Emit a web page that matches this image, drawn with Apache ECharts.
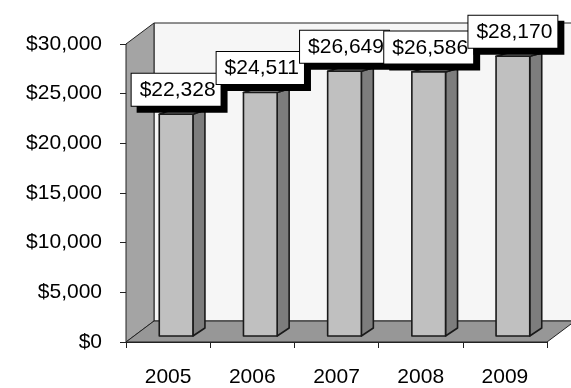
<!DOCTYPE html>
<html>
<head>
<meta charset="utf-8">
<script src="https://cdn.jsdelivr.net/npm/echarts@6/dist/echarts.min.js"></script>
<style>
html, body { margin: 0; padding: 0; background: #fff; }
#main { width: 571px; height: 388px; }
</style>
</head>
<body>
<div id="main"></div>
<script>
/* данные */
const years = ['2005', '2006', '2007', '2008', '2009'];
const amounts = [22328, 24511, 26649, 26586, 28170];
const yTicks = [0, 5000, 10000, 15000, 20000, 25000, 30000];

const FONT = '"Liberation Sans", Arial, sans-serif';
const money = v => '$' + String(v).replace(/\B(?=(\d{3})+(?!\d))/g, ',');

/* псевдо-3D: глубина стенок и столбиков */
const wallDx = 28, wallDy = -21;
const barShiftX = 8, barShiftY = -6;
const barDepthX = 12;
const edge = '#222';

let myChart = echarts.init(document.getElementById('main'));

// задняя стенка, левая стенка и пол
function renderWalls(params, api) {
  let cs = params.coordSys;
  let x0 = cs.x, x1 = cs.x + cs.width;
  let y0 = cs.y, y1 = cs.y + cs.height;
  return {
    type: 'group',
    children: [
      {type: 'rect',
       shape: {x: x0 + wallDx, y: y0 + wallDy, width: cs.width, height: cs.height},
       style: {fill: '#f6f6f6', stroke: edge, lineWidth: 1}},
      {type: 'polygon',
       shape: {points: [[x0, y0], [x0 + wallDx, y0 + wallDy], [x0 + wallDx, y1 + wallDy], [x0, y1]]},
       style: {fill: '#a4a4a4', stroke: edge, lineWidth: 1}},
      {type: 'polygon',
       shape: {points: [[x0, y1], [x1, y1], [x1 + wallDx, y1 + wallDy], [x0 + wallDx, y1 + wallDy]]},
       style: {fill: '#979797', stroke: edge, lineWidth: 1}}
    ]
  };
}

// столбик: передняя грань, боковая и верхняя
function renderBar(params, api) {
  let cs = params.coordSys;
  let base = api.coord([api.value(0), 0]);
  let top = api.coord([api.value(0), api.value(1)]);
  let w = api.size([1, 0])[0] * 0.4;
  let xl = base[0] - w / 2 + barShiftX, xr = xl + w;
  let yb = base[1] + barShiftY, yt = top[1] + barShiftY;
  let dyb = -8;
  let dyt = -3 - 5 * (yt - cs.y) / cs.height;
  let st = {stroke: '#1a1a1a', lineWidth: 1.6, lineJoin: 'round'};
  return {
    type: 'group',
    children: [
      {type: 'polygon',
       shape: {points: [[xr, yb], [xr + barDepthX, yb + dyb], [xr + barDepthX, yt + dyt], [xr, yt]]},
       style: Object.assign({fill: '#7d7d7d'}, st)},
      {type: 'polygon',
       shape: {points: [[xl, yt], [xr, yt], [xr + barDepthX, yt + dyt], [xl + barDepthX, yt + dyt]]},
       style: Object.assign({fill: '#a8a8a8'}, st)},
      {type: 'rect',
       shape: {x: xl, y: yt, width: w, height: yb - yt},
       style: Object.assign({fill: '#c0c0c0'}, st)}
    ]
  };
}

option = {
  animation: false,
  grid: {left: 126, right: 24, top: 44, bottom: 46},
  xAxis: {
    type: 'category',
    data: years,
    boundaryGap: true,
    axisLine: {show: true, lineStyle: {color: edge, width: 1}},
    axisTick: {show: true, length: 6, interval: 0, lineStyle: {color: edge}},
    axisLabel: {fontFamily: FONT, fontSize: 21, color: '#000', margin: 25}
  },
  yAxis: {
    type: 'value',
    min: yTicks[0],
    max: yTicks[yTicks.length - 1],
    interval: yTicks[1] - yTicks[0],
    splitLine: {show: false},
    axisLine: {show: true, lineStyle: {color: edge, width: 1}},
    axisTick: {show: true, length: 6, lineStyle: {color: edge}},
    axisLabel: {fontFamily: FONT, fontSize: 21, color: '#000', margin: 24, formatter: money}
  },
  series: [
    {
      type: 'custom',
      renderItem: renderWalls,
      data: [[0, 0]],
      z: 1,
      silent: true
    },
    {
      type: 'custom',
      renderItem: renderBar,
      data: years.map((y, i) => [i, amounts[i]]),
      z: 2,
      silent: true
    },
    {
      // подписи значений в рамке с тенью
      type: 'scatter',
      data: amounts,
      symbolSize: 1,
      itemStyle: {color: 'transparent', opacity: 1},
      z: 10,
      silent: true,
      label: {
        show: true,
        position: 'top',
        distance: 14,
        offset: [barShiftX, 0],
        formatter: p => money(p.value),
        fontFamily: FONT,
        fontSize: 21,
        color: '#000',
        opacity: 1,
        backgroundColor: '#fff',
        borderColor: '#000',
        borderWidth: 1,
        padding: [6, 5, 5, 8],
        shadowColor: '#000',
        shadowBlur: 0,
        shadowOffsetX: 6,
        shadowOffsetY: 6
      }
    }
  ]
};
myChart.setOption(option);
</script>
</body>
</html>
